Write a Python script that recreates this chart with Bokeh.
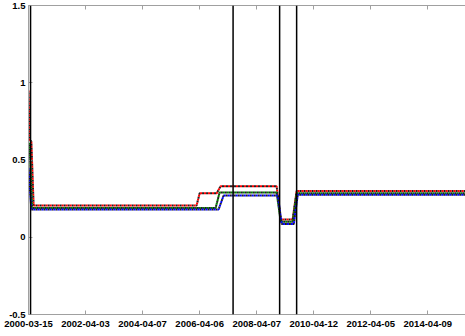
from bokeh.plotting import figure
from bokeh.models import FixedTicker, LinearAxis, Span, CustomJSTickFormatter
from bokeh.embed import file_html
from bokeh.resources import INLINE

# x is a trading-day index; tick labels are the dates at those indices
tick_pos = [0, 500, 1000, 1500, 2000, 2500, 3000, 3500]
tick_labels = ["2000-03-15", "2002-04-03", "2004-04-07", "2006-04-06",
               "2008-04-07", "2010-04-12", "2012-04-05", "2014-04-09"]

red_x = [0, 10, 25, 45, 1473, 1500, 1650, 1684, 2175, 2210, 2315, 2350, 3830]
red_y = [0.95, 0.63, 0.62, 0.205, 0.205, 0.285, 0.285, 0.33, 0.33, 0.115, 0.115, 0.30, 0.30]

green_x = [0, 10, 32, 1640, 1675, 2175, 2210, 2315, 2350, 3830]
green_y = [0.61, 0.60, 0.19, 0.19, 0.29, 0.29, 0.10, 0.10, 0.285, 0.285]

blue_x = [0, 25, 1666, 1710, 2185, 2220, 2325, 2360, 3830]
blue_y = [0.45, 0.18, 0.18, 0.27, 0.27, 0.085, 0.085, 0.275, 0.275]

vlines = [18, 1793, 2201, 2350]

y_ticks = [-0.5, 0, 0.5, 1, 1.5]
y_labels = ["-0.5", "0", "0.5", "1", "1.5"]

p = figure(width=465, height=336, output_backend="svg", toolbar_location=None,
           x_range=(0, 3830), y_range=(-0.5, 1.5),
           min_border_left=28, min_border_right=0, min_border_top=5, min_border_bottom=22)
p.outline_line_color = None
p.grid.visible = False
p.background_fill_color = "white"
p.border_fill_color = "white"

FONT = "Liberation Sans"

def style_axis(ax):
    ax.axis_line_color = "#a0a0a0"
    ax.major_tick_line_color = "#a0a0a0"
    ax.major_tick_in = 4
    ax.major_tick_out = 0
    ax.minor_tick_line_color = None
    ax.major_label_text_font = FONT
    ax.major_label_text_font_style = "bold"
    ax.major_label_text_font_size = "9.5px"
    ax.major_label_text_color = "black"

xa = p.xaxis[0]
xa.ticker = FixedTicker(ticks=tick_pos)
xa.major_label_overrides = {t: l for t, l in zip(tick_pos, tick_labels)}
xa.major_label_standoff = 6
style_axis(xa)

ya = p.yaxis[0]
ya.ticker = FixedTicker(ticks=y_ticks)
ya.major_label_overrides = {t: l for t, l in zip(y_ticks, y_labels)}
ya.major_label_standoff = 3
style_axis(ya)

top = LinearAxis(ticker=FixedTicker(ticks=tick_pos),
                 formatter=CustomJSTickFormatter(code="return '';"))
style_axis(top)
top.major_label_standoff = 0
p.add_layout(top, "above")

for vx in vlines:
    p.add_layout(Span(location=vx, dimension="height", line_color="black", line_width=1.5))

for xs, ys, c in [(red_x, red_y, "#ff0000"), (green_x, green_y, "#008000"), (blue_x, blue_y, "#0000ff")]:
    p.line(xs, ys, line_color="#202020", line_width=2, line_dash="2 2", line_dash_offset=2)
    p.line(xs, ys, line_color=c, line_width=2, line_dash="2 2")

open("out.html", "w").write(file_html(p, INLINE))
